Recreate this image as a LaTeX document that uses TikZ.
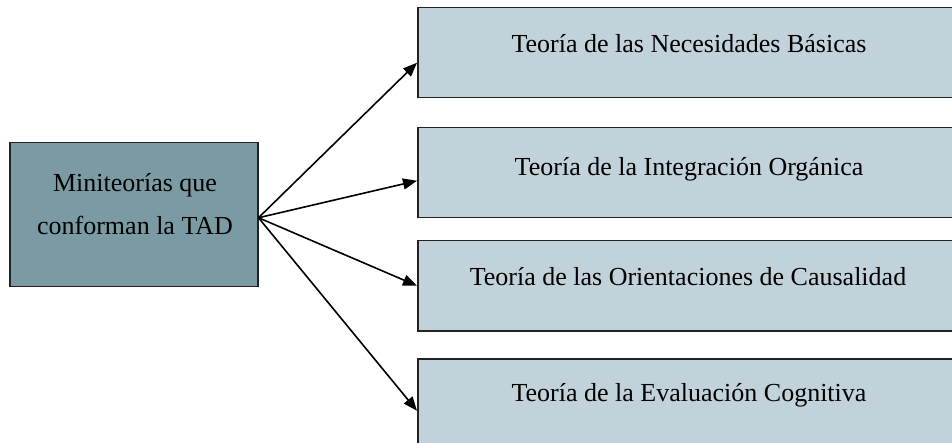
\documentclass[tikz,border=0pt]{standalone}
\usepackage{fontspec}
\setmainfont{Liberation Serif}
\usetikzlibrary{arrows.meta}
\definecolor{mainfill}{HTML}{7A9BA3}
\definecolor{subfill}{HTML}{C1D2DA}
\definecolor{edgeline}{HTML}{222222}
\tikzset{
  mainbox/.style={draw=edgeline, fill=mainfill, line width=1.5pt, anchor=north west,
    inner sep=0pt, minimum width=248pt, minimum height=144pt},
  subbox/.style={draw=edgeline, fill=subfill, line width=1.5pt, anchor=north west,
    inner sep=0pt, minimum width=560pt, minimum height=90pt},
  lbl/.style={font=\fontsize{26pt}{43pt}\selectfont, inner sep=0pt, align=center},
  sublbl/.style={lbl, anchor=base},
  link/.style={line width=1.6pt, -{Triangle[length=14pt,width=11pt]}}
}
\begin{document}
\begin{tikzpicture}[x=1pt, y=-1pt]
  \useasboundingbox (0,0) rectangle (952,443);
  \clip (0,0) rectangle (952,443);

  % central concept
  \node[mainbox] (m) at (9,142) {};
  \node[lbl] (mt) at (135,204) {Miniteorías que\\conforman la TAD};

  % the four mini-theories
  \node[subbox] (b1) at (417,7) {};
  \node[subbox] (b2) at (417,127) {};
  \node[subbox] (b3) at (417,240) {};
  \node[subbox] (b4) at (417,358) {};

  \node[sublbl] (t1) at (689,53) {Teoría de las Necesidades Básicas};
  \node[sublbl] (t2) at (689,176) {Teoría de la Integración Orgánica};
  \node[sublbl] (t3) at (688,286) {Teoría de las Orientaciones de Causalidad};
  \node[sublbl] (t4) at (689,401) {Teoría de la Evaluación Cognitiva};

  % arrow end points on the left edges of the boxes
  \coordinate (e1) at ([yshift=-10pt]b1.west);
  \coordinate (e2) at ([yshift=-8pt]b2.west);
  \coordinate (e3) at ([yshift=0pt]b3.west);
  \coordinate (e4) at ([yshift=-7pt]b4.west);

  \draw[link] ([yshift=-3pt]m.east) -- (e1);
  \draw[link] ([yshift=-3pt]m.east) -- (e2);
  \draw[link] ([yshift=-3pt]m.east) -- (e3);
  \draw[link] ([yshift=-3pt]m.east) -- (e4);
\end{tikzpicture}
\end{document}
